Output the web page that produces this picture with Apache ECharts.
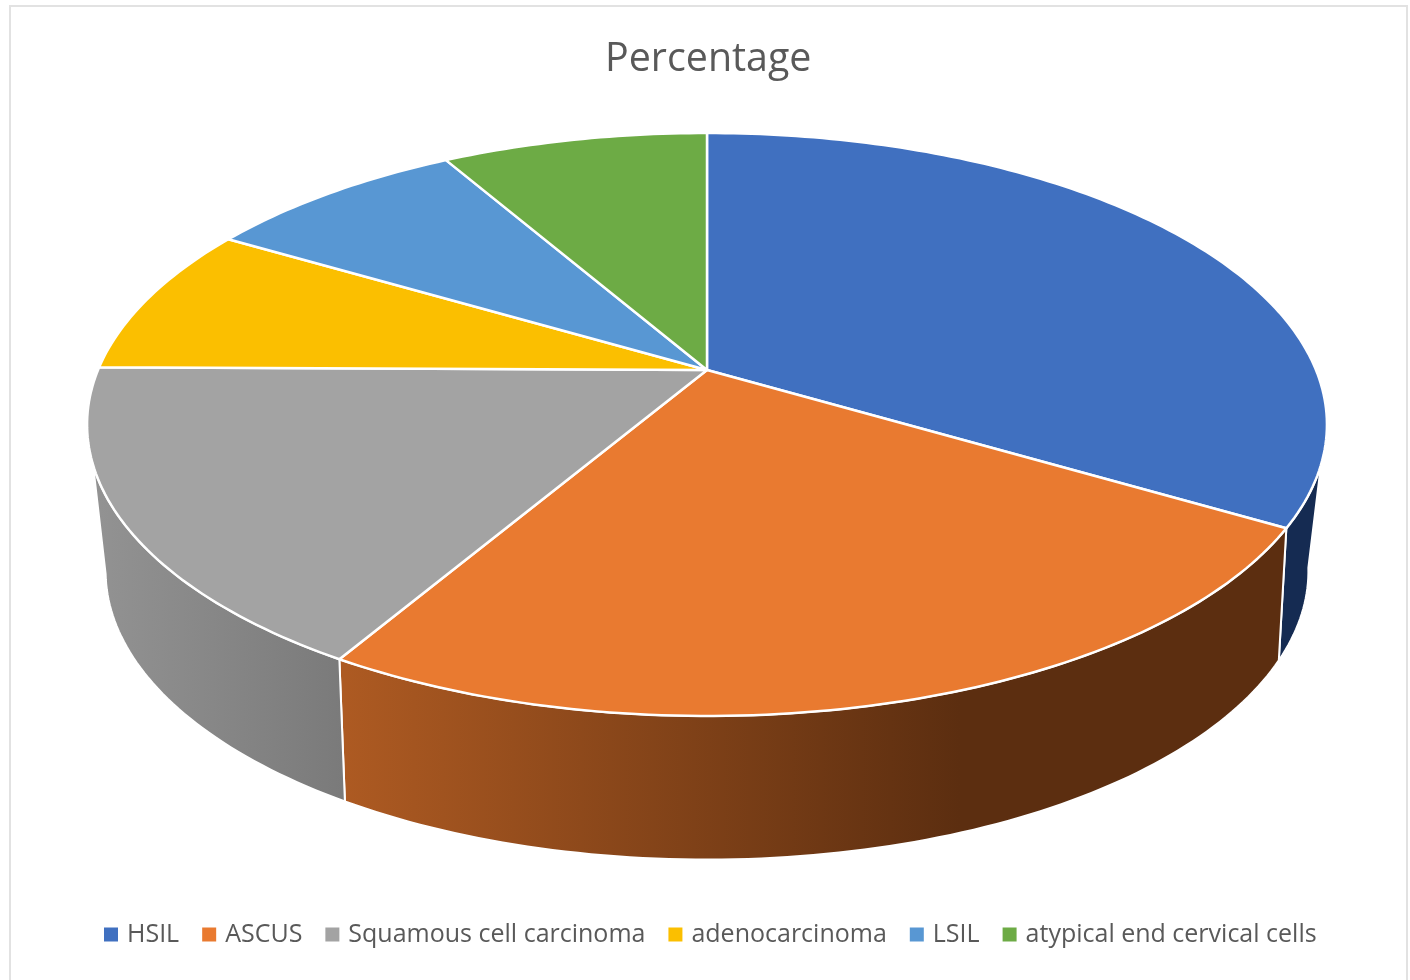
<!DOCTYPE html>
<html>
<head>
<meta charset="utf-8">
<style>html,body{margin:0;padding:0;background:#fff}#chart{width:1410px;height:980px}</style>
<script src="https://cdn.jsdelivr.net/npm/echarts@6/dist/echarts.min.js"></script>
</head>
<body>
<div id="chart"></div>
<script>
// Slice names and shares of the whole, in drawing order (clockwise from 12 o'clock).
const categories = ['HSIL', 'ASCUS', 'Squamous cell carcinoma', 'adenocarcinoma', 'LSIL', 'atypical end cervical cells'];
const percentages = [33.5, 24.95, 16.7, 8.35, 8.2, 8.3];
const topColors = ['#4070c0', '#e97a30', '#a3a3a3', '#fbbf00', '#5897d3', '#6dab45'];
// Side wall shading: [start colour, end colour, gradient start x, gradient end x]
const wallShades = [
  ['#152b52', '#152b52', 1270, 1330],
  ['#ad5a22', '#5c2e10', 345, 960],
  ['#929292', '#7a7a7a', 100, 345],
  null, null, null
];

// Perspective model of the disc: top face and bottom face each map an angle onto an ellipse.
const CX = 707;
const topFace = { cy: 370, a: 281.3, b: 609, k: 0.187, rot: 0 };
const bottomFace = { cy: 506, a: 274, b: 586, k: 0.225, rot: -0.6 };
// Portion of the rim that faces the viewer, in degrees, on each face.
const rimTop = [108.5, 251.5];
const rimBottom = [103, 257];

function project(face, deg) {
  const t = (deg + face.rot) * Math.PI / 180;
  const w = 1 + face.k * Math.cos(t);
  return [CX + face.b * Math.sin(t) / w, face.cy - face.a * Math.cos(t) / w];
}
function arc(face, from, to) {
  const pts = [];
  const n = Math.max(2, Math.ceil(Math.abs(to - from)));
  for (let i = 0; i <= n; i++) pts.push(project(face, from + (to - from) * i / n));
  return pts;
}

const total = percentages.reduce((s, v) => s + v, 0);
const startAngles = [];
percentages.reduce((acc, v, i) => { startAngles[i] = acc / total * 360; return acc + v; }, 0);

function renderSlice(index, api) {
  const start = startAngles[index];
  const end = start + api.value(0) / total * 360;
  const children = [];
  const shade = wallShades[index];
  const t0 = Math.max(start, rimTop[0]), t1 = Math.min(end, rimTop[1]);
  if (shade && t1 > t0) {
    const b0 = start <= rimTop[0] ? rimBottom[0] : t0;
    const b1 = end >= rimTop[1] ? rimBottom[1] : t1;
    children.push({
      type: 'polygon', z2: 1,
      shape: { points: arc(topFace, t0, t1).concat(arc(bottomFace, b1, b0)) },
      style: {
        fill: { type: 'linear', x: shade[2], y: 0, x2: shade[3], y2: 0, global: true,
                colorStops: [{ offset: 0, color: shade[0] }, { offset: 1, color: shade[1] }] },
        stroke: '#fff', lineWidth: 2
      }
    });
  }
  children.push({
    type: 'polygon', z2: 10,
    shape: { points: [[CX, topFace.cy]].concat(arc(topFace, start, end)) },
    style: { fill: topColors[index], stroke: '#fff', lineWidth: 2.5, lineJoin: 'round' }
  });
  return { type: 'group', children };
}

const chart = echarts.init(document.getElementById('chart'), null, { renderer: 'canvas' });
chart.setOption({
  animation: false,
  backgroundColor: '#fff',
  title: {
    text: 'Percentage', left: 600, top: 35,
    textStyle: { fontFamily: 'Open Sans', fontSize: 39.4, fontWeight: 'normal', color: '#595959' }
  },
  legend: {
    data: categories, left: 99, top: 917, icon: 'rect',
    itemWidth: 14, itemHeight: 14, itemGap: 23, selectedMode: false,
    textStyle: { fontFamily: 'Open Sans', fontSize: 25, color: '#595959', padding: [0, 0, 0, 4] }
  },
  graphic: [{
    type: 'polyline', silent: true,
    shape: { points: [[10, 990], [10, 6], [1407, 6], [1407, 990]] },
    style: { fill: null, stroke: '#e2e2e2', lineWidth: 2 }
  }],
  series: categories.map((name, i) => ({
    type: 'custom', name, coordinateSystem: 'none',
    itemStyle: { color: topColors[i] },
    data: [[percentages[i]]],
    renderItem: (params, api) => renderSlice(i, api)
  }))
});
</script>
</body>
</html>
